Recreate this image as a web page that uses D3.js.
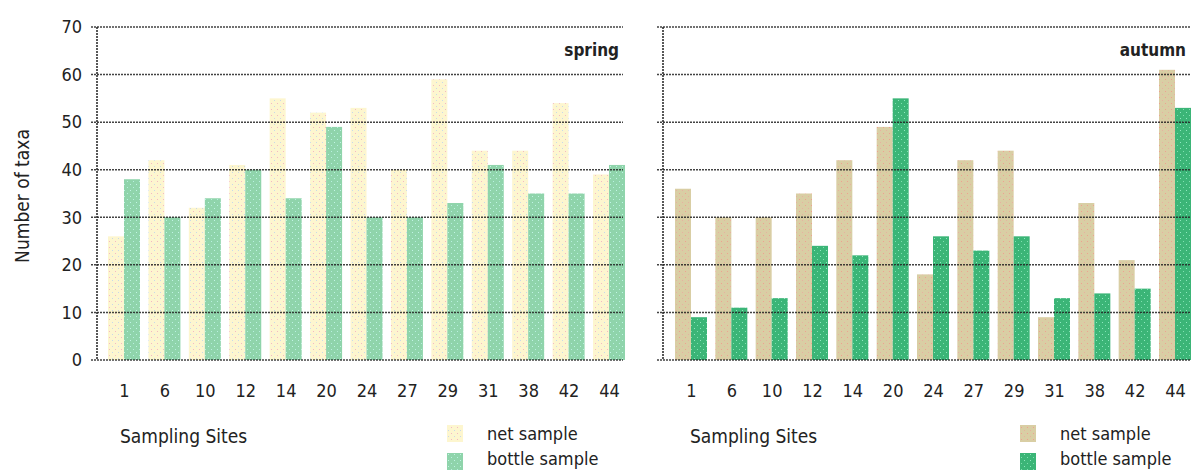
<!DOCTYPE html>
<html><head><meta charset="utf-8">
<script src="https://cdn.jsdelivr.net/npm/d3@7"></script>
<style>
body{margin:0;background:#fff;}
svg text{font-family:"Liberation Sans Narrow","DejaVu Sans Condensed",sans-serif;fill:#222;}
</style></head>
<body><svg id="c" width="1196" height="471"></svg>
<script>
const sites = ["1","6","10","12","14","20","24","27","29","31","38","42","44"];
const springNet    = [26,42,32,41,55,52,53,40,59,44,44,54,39];
const springBottle = [38,30,34,40,34,49,30,30,33,41,35,35,41];
const autumnNet    = [36,30,30,35,42,49,18,42,44,9,33,21,61];
const autumnBottle = [9,11,13,24,22,55,26,23,26,13,14,15,53];
const yTicks = [0,10,20,30,40,50,60,70];
const seriesNames = ["net sample","bottle sample"];

const svg = d3.select("#c");
const defs = svg.append("defs");
function pattern(id, bg, dot1, dot2){
  const p = defs.append("pattern").attr("id",id).attr("patternUnits","userSpaceOnUse")
    .attr("width",6).attr("height",6);
  p.append("rect").attr("width",6).attr("height",6).attr("fill",bg);
  p.append("rect").attr("x",1).attr("y",1).attr("width",1).attr("height",1).attr("fill",dot1);
  p.append("rect").attr("x",4).attr("y",4).attr("width",1).attr("height",1).attr("fill",dot2);
}
pattern("pSN","#fdf6cf","#f4b8c4","#c8d8e8");
pattern("pSB","#8fd4ab","#b8f0e0","#c0f4e4");
pattern("pAN","#d9cea4","#f0a090","#e8b0a0");
pattern("pAB","#3bb577","#80e0b0","#90e8c0");

const y = d3.scaleLinear().domain([0,70]).range([360,27]);

function panel(opt){
  const g = svg.append("g");
  const x = d3.scalePoint().domain(sites).range(opt.centers);
  const bw = 16;
  // bars
  g.append("g").selectAll("rect").data(sites).join("rect")
    .attr("x",d=>x(d)-bw).attr("width",bw)
    .attr("y",(d,i)=>y(opt.net[i])).attr("height",(d,i)=>y(0)-y(opt.net[i]))
    .attr("fill",`url(#${opt.pNet})`);
  g.append("g").selectAll("rect").data(sites).join("rect")
    .attr("x",d=>x(d)).attr("width",bw)
    .attr("y",(d,i)=>y(opt.bottle[i])).attr("height",(d,i)=>y(0)-y(opt.bottle[i]))
    .attr("fill",`url(#${opt.pBottle})`);
  // grid over bars
  g.append("g").selectAll("line").data(yTicks).join("line")
    .attr("x1",opt.axisX-6).attr("x2",opt.gridEnd)
    .attr("y1",d=>y(d)).attr("y2",d=>y(d))
    .attr("stroke","#222").attr("stroke-opacity",0.85).attr("stroke-width",1.5).attr("stroke-dasharray","2,1");
  // y axis line
  g.append("line").attr("x1",opt.axisX).attr("x2",opt.axisX).attr("y1",y(70)).attr("y2",y(0))
    .attr("stroke","#222").attr("stroke-width",1.5).attr("stroke-dasharray","2,1");
  if(opt.yLabels){
    g.append("g").selectAll("text").data(yTicks).join("text")
      .attr("x",opt.axisX-15).attr("y",d=>y(d)).attr("dy","0.35em")
      .attr("text-anchor","end").style("font-size","18px").text(d=>d);
  }
  // x labels via axis
  const ax = g.append("g").attr("transform",`translate(0,${y(0)+24})`)
    .call(d3.axisBottom(x).tickSize(0).tickPadding(0));
  ax.select(".domain").remove();
  ax.selectAll("text").style("font-size","18px").attr("fill","#222");
  // season label
  g.append("text").attr("x",opt.gridEnd-4).attr("y",56).attr("text-anchor","end")
    .style("font-size","17px").style("font-weight","bold").text(opt.season);
  // x title
  g.append("text").attr("x",opt.titleX).attr("y",443).style("font-size","19px").text("Sampling Sites");
  // legend
  const leg = g.append("g");
  [opt.pNet,opt.pBottle].forEach((p,i)=>{
    leg.append("rect").attr("x",opt.legX).attr("y",425+i*28).attr("width",16).attr("height",17)
      .attr("fill",`url(#${p})`);
    leg.append("text").attr("x",opt.legX+40).attr("y",440+i*25).style("font-size","18px").text(seriesNames[i]);
  });
}

panel({centers:[124,609],axisX:97,gridEnd:623,net:springNet,bottle:springBottle,pNet:"pSN",pBottle:"pSB",
  yLabels:true,season:"spring",titleX:120,legX:447});
panel({centers:[691,1175],axisX:663,gridEnd:1190,net:autumnNet,bottle:autumnBottle,pNet:"pAN",pBottle:"pAB",
  yLabels:false,season:"autumn",titleX:690,legX:1020});

svg.append("text").attr("transform","translate(29,196) rotate(-90)").attr("text-anchor","middle")
  .style("font-size","19px").text("Number of taxa");
</script></body></html>
